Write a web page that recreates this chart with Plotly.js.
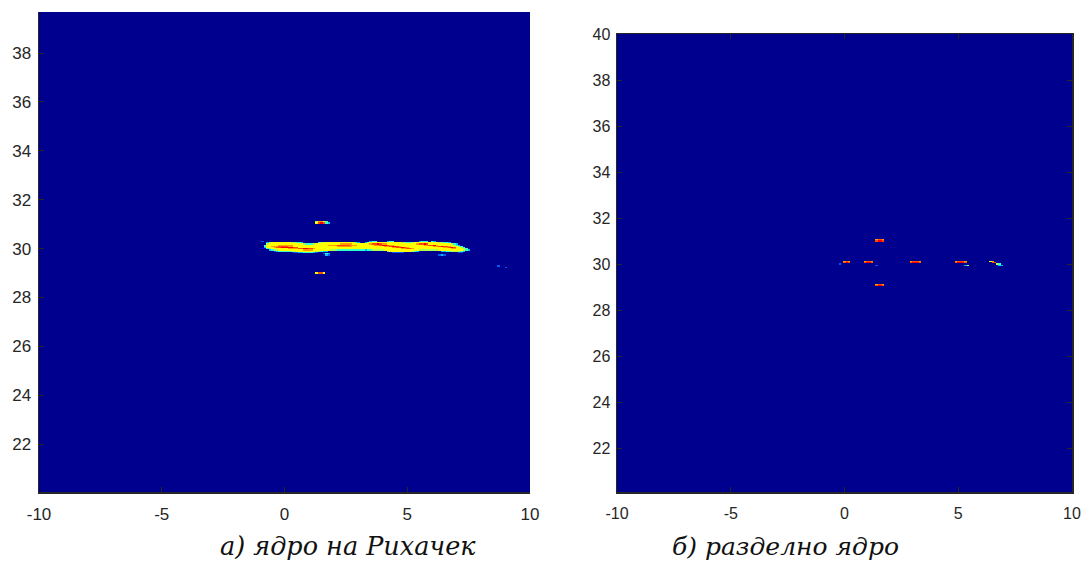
<!DOCTYPE html>
<html>
<head>
<meta charset="utf-8">
<script src="https://cdn.plot.ly/plotly-3.0.1.min.js"></script>
<style>html,body{margin:0;padding:0;background:#fff;}#chart{width:1088px;height:563px;}</style>
</head>
<body>
<div id="chart"></div>
<script>
// ---- tick labels ----
const xTicks = [-10, -5, 0, 5, 10];
const yTicksLeft = [22, 24, 26, 28, 30, 32, 34, 36, 38];
const yTicksRight = [22, 24, 26, 28, 30, 32, 34, 36, 38, 40];
const titleLeft = "а) ядро на Рихачек";
const titleRight = "б) разделно ядро";

// intensity level for each code digit 0..9
const levelValues = [0, 0.1, 0.2, 0.3, 0.42, 0.54, 0.62, 0.72, 0.8, 0.88];

// ---- left panel (Rihaczek kernel): strips of cells, step 0.1 in x ----
const leftStripX0 = [
  -1.0, -1.0, -1.0, -1.0, -1.0, -1.0, -1.0, -1.0, -1.0, -1.0,
  1.3, 1.3, 1.3, 1.3, 1.6, 1.7, 6.3, 8.7, 9.0
];
const leftStripY = [
  30.30, 30.25, 30.20, 30.15, 30.10, 30.05, 30.00, 29.95, 29.90, 29.85,
  31.10, 31.05, 29.05, 29.00, 29.80, 29.75, 29.75, 29.30, 29.25
];
const leftStripCodes = [
  "0200000000" + "0000000000" + "0000000000" + "0000000000" + "0000034400" + "0034400000" + "0000034440" + "4300000000" + "000000",
  "0003566666" + "6665544300" + "0000456666" + "6666666664" + "3003566666" + "6666666655" + "4456666666" + "6665544300" + "000000",
  "0005666666" + "6666666654" + "4456666666" + "6667777766" + "6666678898" + "7766666666" + "6666788986" + "6666666654" + "300000",
  "0046666677" + "7777666666" + "6666666677" + "7788888777" + "6666666778" + "9987766666" + "6666666778" + "8976666665" + "430000",
  "0046677788" + "8877666666" + "6666666666" + "6677777766" + "6666666666" + "6778998766" + "6666666666" + "6778988766" + "654000",
  "0036667889" + "9999886666" + "6666666666" + "6666666666" + "6666666666" + "6666778898" + "7666666666" + "6666677898" + "665400",
  "0104566666" + "6677778899" + "8876666666" + "6666666666" + "6666666666" + "6666666677" + "8876666666" + "6666666677" + "666540",
  "0000345566" + "6666666677" + "7766666665" + "5544444444" + "4443445555" + "5666666666" + "6666655555" + "5556666666" + "666543",
  "0000002344" + "4445566666" + "6665543300" + "0000000000" + "0000000000" + "0046666666" + "6654300000" + "0000334455" + "554300",
  "0000000000" + "0000223344" + "4432000000" + "0000000000" + "0000000000" + "0000222220" + "0000000000" + "0000000000" + "022000",
  "57764",
  "689843",
  "6886",
  "6886",
  "243",
  "32",
  "232",
  "2",
  "2"
];

// ---- right panel (separable kernel) ----
const rightStripX0 = [
  0.0, 0.0, -0.2, 0.9, 0.9, 1.4, 2.9, 2.9, 4.9, 4.9, 5.3,
  6.4, 6.5, 6.7, 6.8, 1.4, 1.4, 1.4, 1.4
];
const rightStripY = [
  30.10, 30.05, 30.00, 30.10, 30.05, 29.95, 30.10, 30.05, 30.10, 30.05, 29.95,
  30.10, 30.05, 30.00, 29.95, 31.05, 31.00, 29.10, 29.05
];
const rightStripCodes = [
  "787", "898", "2", "7887", "8998", "2", "78887", "89998", "78887", "89998", "35",
  "67", "88", "54", "33", "7887", "8998", "7887", "8998"
];

// ---- grid (cell centres) ----
const gx0 = -1.5, gx1 = 9.5, gdx = 0.1;
const gy0 = 28.5, gy1 = 31.5, gdy = 0.05;
const gridX = [], gridY = [];
for (let v = 0; v <= Math.round((gx1 - gx0) / gdx); v++) gridX.push(+(gx0 + v * gdx).toFixed(3));
for (let v = 0; v <= Math.round((gy1 - gy0) / gdy); v++) gridY.push(+(gy0 + v * gdy).toFixed(3));

function buildZ(x0s, ys, codes) {
  const z = gridY.map(() => new Array(gridX.length).fill(0));
  for (let k = 0; k < codes.length; k++) {
    const r = Math.round((ys[k] - gy0) / gdy);
    for (let i = 0; i < codes[k].length; i++) {
      const c = Math.round((x0s[k] + i * gdx - gx0) / gdx);
      const d = parseInt(codes[k][i], 10);
      if (d > 0 && r >= 0 && r < gridY.length && c >= 0 && c < gridX.length) z[r][c] = levelValues[d];
    }
  }
  return z;
}

const jet = [
  [0, 'rgb(0,0,143)'], [0.111, 'rgb(0,0,255)'], [0.365, 'rgb(0,255,255)'],
  [0.619, 'rgb(255,255,0)'], [0.873, 'rgb(255,0,0)'], [1, 'rgb(128,0,0)']
];
const bg = 'rgb(0,0,143)';

const traces = [
  { type: 'heatmap', x: gridX, y: gridY, z: buildZ(leftStripX0, leftStripY, leftStripCodes),
    colorscale: jet, zmin: 0, zmax: 1, showscale: false, hoverinfo: 'skip', xaxis: 'x', yaxis: 'y' },
  { type: 'heatmap', x: gridX, y: gridY, z: buildZ(rightStripX0, rightStripY, rightStripCodes),
    colorscale: jet, zmin: 0, zmax: 1, showscale: false, hoverinfo: 'skip', xaxis: 'x2', yaxis: 'y2' }
];

const axCol = '#262626';
function ax(extra, size) {
  return Object.assign({
    showgrid: false, zeroline: false, showline: true, linecolor: axCol, linewidth: 1.5,
    ticks: 'inside', ticklen: 5, tickwidth: 1, tickcolor: axCol, tickmode: 'array',
    tickfont: { family: 'Liberation Sans, Arial, sans-serif', size: size, color: axCol },
    fixedrange: true
  }, extra);
}

const H = 563, W = 1088;
const serif = "DejaVu Serif";
const layout = {
  width: W, height: H,
  margin: { l: 0, r: 0, t: 0, b: 0 },
  paper_bgcolor: '#ffffff',
  plot_bgcolor: bg,
  showlegend: false,
  xaxis: ax({ domain: [39 / W, 530 / W], range: [-10, 10], tickvals: xTicks, ticktext: xTicks.map(String), anchor: 'y', ticklabelstandoff: 6 }, 17),
  yaxis: ax({ domain: [1 - 492 / H, 1 - 12 / H], range: [20.04, 39.68], tickvals: yTicksLeft, ticktext: yTicksLeft.map(String), anchor: 'x', ticklabelstandoff: 3 }, 17),
  xaxis2: ax({ domain: [617 / W, 1072 / W], range: [-10, 10], tickvals: xTicks, ticktext: xTicks.map(String), anchor: 'y2', mirror: 'ticks', ticklabelstandoff: 6 }, 16),
  yaxis2: ax({ domain: [1 - 492 / H, 1 - 34 / H], range: [20.09, 40], tickvals: yTicksRight, ticktext: yTicksRight.map(String), anchor: 'x2', mirror: 'ticks', ticklabelstandoff: 2 }, 16),
  annotations: [
    { text: titleLeft, xref: 'paper', yref: 'paper', x: 218 / W, y: (H - 546) / H,
      xanchor: 'left', yanchor: 'middle', showarrow: false,
      font: { family: serif, style: 'italic', size: 25.5, color: '#111111' } },
    { text: titleRight, xref: 'paper', yref: 'paper', x: 670 / W, y: (H - 546) / H,
      xanchor: 'left', yanchor: 'middle', showarrow: false,
      font: { family: serif, style: 'italic', size: 25, color: '#111111' } }
  ]
};

Plotly.newPlot('chart', traces, layout, { staticPlot: true, displayModeBar: false });
</script>
</body>
</html>
